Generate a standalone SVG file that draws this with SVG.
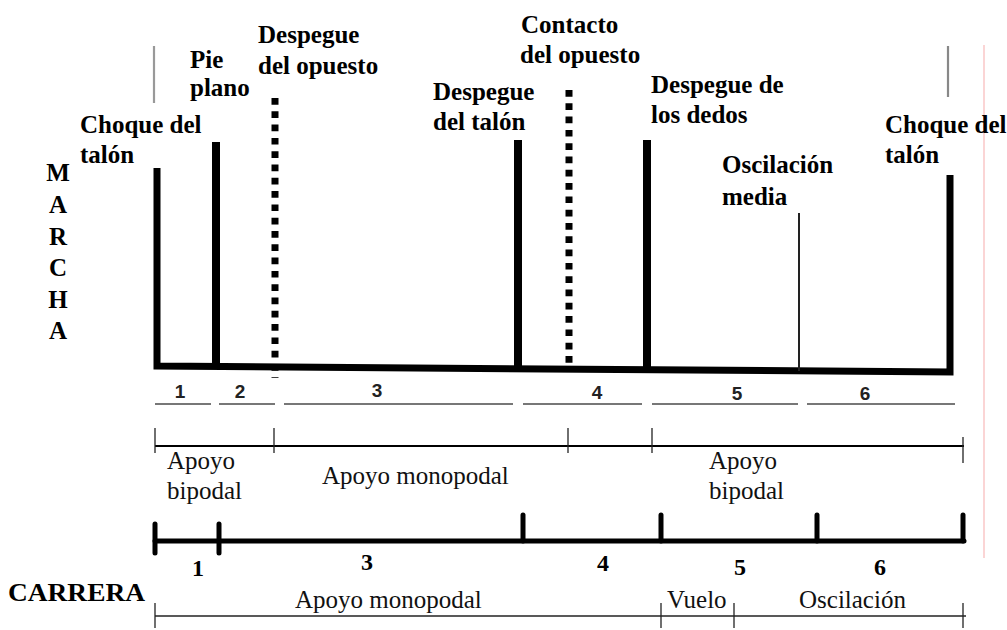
<svg xmlns="http://www.w3.org/2000/svg" width="1007" height="630" viewBox="0 0 1007 630">
<style>
.lb{font-family:"Liberation Serif","Times New Roman",serif;font-weight:bold;font-size:25px;fill:#000}
.rg{font-family:"Liberation Serif","Times New Roman",serif;font-size:25px;fill:#111}
.nm{font-family:"Liberation Sans",Arial,sans-serif;font-weight:bold;font-size:19px;fill:#222;text-anchor:middle}
.bn{font-family:"Liberation Serif","Times New Roman",serif;font-weight:bold;font-size:24px;fill:#000;text-anchor:middle}
.mt{font-size:25px}
.cr{font-size:26px}
.bar{stroke:#000;stroke-width:8;fill:none}
.base{stroke-width:7}
.dot{stroke:#000;stroke-width:7;stroke-dasharray:6.7 6.6;fill:none}
.gr{stroke:#777;stroke-width:1.8}
.ax{stroke:#000;stroke-width:2;fill:none}
.tk{stroke:#222;stroke-width:1.3}
.thick{stroke:#000;stroke-width:5;fill:none;stroke-linecap:round}
</style>
<rect width="1007" height="630" fill="#fff"/>
<line x1="984" y1="45" x2="984" y2="558" stroke="#fbd5d5" stroke-width="2"/>
<g id="top-ticks">
<line x1="154" y1="46" x2="154" y2="103" stroke="#999" stroke-width="2.2"/>
<line x1="948" y1="46" x2="948" y2="97" stroke="#888" stroke-width="2.2"/>
</g>
<g id="marcha-chart">
<path class="bar base" d="M157,168 V366 L950,372 V175"/>
<line class="bar" x1="216" y1="142" x2="216" y2="367"/>
<line class="bar" x1="518" y1="140" x2="518" y2="369"/>
<line class="bar" x1="647" y1="140" x2="647" y2="370"/>
<line x1="799" y1="213" x2="799" y2="371" stroke="#222" stroke-width="2"/>
<line class="dot" x1="275" y1="98" x2="275" y2="378"/>
<line class="dot" x1="569" y1="90" x2="569" y2="372"/>
</g>
<g id="labels">
<text class="lb" x="80" y="133">Choque del</text>
<text class="lb" x="80" y="163">talón</text>
<text class="lb" x="190" y="68">Pie</text>
<text class="lb" x="190" y="96">plano</text>
<text class="lb" x="258" y="43">Despegue</text>
<text class="lb" x="258" y="74">del opuesto</text>
<text class="lb" x="433" y="100">Despegue</text>
<text class="lb" x="433" y="130">del talón</text>
<text class="lb" x="521" y="33">Contacto</text>
<text class="lb" x="520" y="63">del opuesto</text>
<text class="lb" x="651" y="93">Despegue de</text>
<text class="lb" x="651" y="123">los dedos</text>
<text class="lb" x="722" y="173">Oscilación</text>
<text class="lb" x="722" y="205">media</text>
<text class="lb" x="885" y="133">Choque del</text>
<text class="lb" x="885" y="163">talón</text>
</g>
<g id="marcha-title">
<text class="bn mt" x="58" y="181">M</text>
<text class="bn mt" x="58" y="213">A</text>
<text class="bn mt" x="58" y="245">R</text>
<text class="bn mt" x="58" y="276">C</text>
<text class="bn mt" x="58" y="308">H</text>
<text class="bn mt" x="58" y="339">A</text>
</g>
<g id="phase-numbers" class="nm">
<text x="180" y="398">1</text>
<text x="240" y="398">2</text>
<text x="377" y="397">3</text>
<text x="597" y="399">4</text>
<text x="737" y="400">5</text>
<text x="865" y="400">6</text>
</g>
<g id="phase-underlines" class="gr">
<line x1="155" y1="404" x2="211" y2="404"/>
<line x1="219" y1="404" x2="275" y2="404"/>
<line x1="284" y1="404" x2="513" y2="404"/>
<line x1="523" y1="404" x2="642" y2="404"/>
<line x1="652" y1="404" x2="798" y2="404"/>
<line x1="807" y1="404" x2="955" y2="404"/>
</g>
<g id="marcha-support">
<line class="ax" x1="155" y1="446" x2="964" y2="446"/>
<line class="tk" x1="155" y1="428" x2="155" y2="453"/>
<line class="tk" x1="274" y1="428" x2="274" y2="453"/>
<line class="tk" x1="568" y1="428" x2="568" y2="453"/>
<line class="tk" x1="652" y1="428" x2="652" y2="453"/>
<line class="tk" x1="963" y1="437" x2="963" y2="463"/>
<text class="rg" x="167" y="469">Apoyo</text>
<text class="rg" x="167" y="499">bipodal</text>
<text class="rg" x="322" y="484">Apoyo monopodal</text>
<text class="rg" x="709" y="469">Apoyo</text>
<text class="rg" x="709" y="499">bipodal</text>
</g>
<g id="carrera-bar">
<line class="thick" x1="155" y1="541" x2="964" y2="541"/>
<line class="thick" x1="155" y1="524" x2="155" y2="553"/>
<line class="thick" x1="219" y1="524" x2="219" y2="553"/>
<line class="thick" x1="523" y1="515" x2="523" y2="541"/>
<line class="thick" x1="661" y1="515" x2="661" y2="541"/>
<line class="thick" x1="817" y1="515" x2="817" y2="541"/>
<line class="thick" x1="963" y1="515" x2="963" y2="541"/>
</g>
<g id="carrera-numbers" class="bn">
<text x="198" y="576">1</text>
<text x="367" y="570">3</text>
<text x="603" y="571">4</text>
<text x="740" y="575">5</text>
<text x="880" y="575">6</text>
</g>
<text class="lb cr" x="8" y="601" textLength="137" lengthAdjust="spacingAndGlyphs">CARRERA</text>
<g id="carrera-support">
<line class="tk" x1="155" y1="616" x2="966" y2="616"/>
<line class="tk" x1="155" y1="603" x2="155" y2="628"/>
<line class="tk" x1="661" y1="603" x2="661" y2="628"/>
<line class="tk" x1="734" y1="603" x2="734" y2="628"/>
<line class="tk" x1="963" y1="603" x2="963" y2="628"/>
<text class="rg" x="295" y="608">Apoyo monopodal</text>
<text class="rg" x="667" y="608">Vuelo</text>
<text class="rg" x="799" y="608">Oscilación</text>
</g>
</svg>
